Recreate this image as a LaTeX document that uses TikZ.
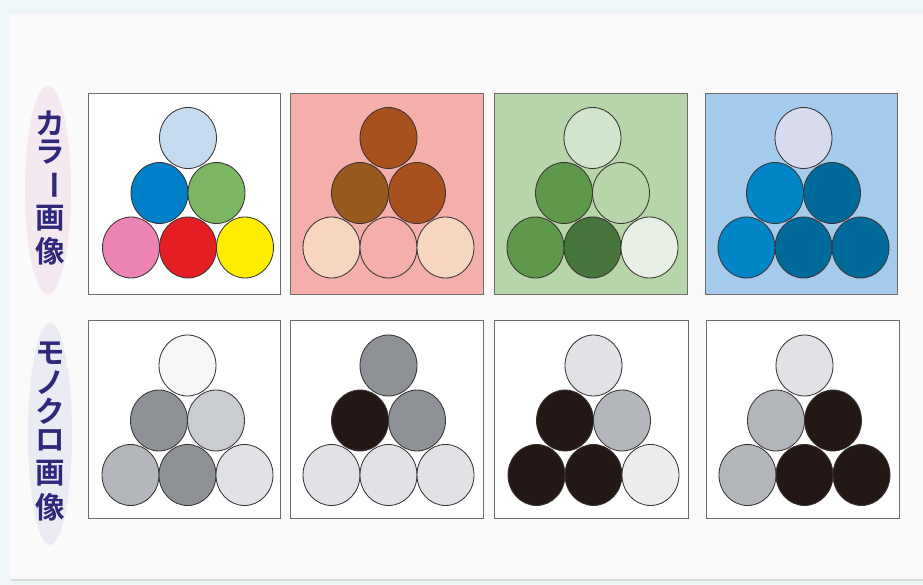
\documentclass[tikz,border=0pt]{standalone}
\usepackage{fontspec}
\newfontfamily\jpfont{Noto Sans CJK JP Bold}
\usetikzlibrary{shapes.geometric}
% colours
\definecolor{outerbg}{HTML}{EEF6F8}
\definecolor{innerbg}{HTML}{FAFAFA}
\definecolor{framegray}{HTML}{6E6B6B}
\definecolor{ringgray}{HTML}{3A3434}
\definecolor{labeltext}{HTML}{30287A}
\definecolor{labelpink}{HTML}{F4E9F1}
\definecolor{labelblue}{HTML}{EBEBF4}
% colour panels
\definecolor{cLB}{HTML}{C5DCF0}
\definecolor{cBlue}{HTML}{0080C8}
\definecolor{cGreen}{HTML}{7BB662}
\definecolor{cPink}{HTML}{EB84B4}
\definecolor{cRed}{HTML}{E31F23}
\definecolor{cYellow}{HTML}{FFED00}
\definecolor{bgPink}{HTML}{F4AFAB}
\definecolor{cBrownA}{HTML}{A9511E}
\definecolor{cBrownB}{HTML}{97591C}
\definecolor{cSkin}{HTML}{F5D7BF}
\definecolor{bgGreen}{HTML}{B6D5A8}
\definecolor{gA}{HTML}{D1E5CC}
\definecolor{gB}{HTML}{5E984A}
\definecolor{gC}{HTML}{B6D5A8}
\definecolor{gD}{HTML}{46763C}
\definecolor{gE}{HTML}{E8F0E6}
\definecolor{bgBlue}{HTML}{A5CBEC}
\definecolor{bA}{HTML}{D8DAEE}
\definecolor{bB}{HTML}{0086C6}
\definecolor{bC}{HTML}{006A9A}
% grays
\definecolor{kA}{HTML}{F5F6F8}
\definecolor{kB}{HTML}{8E9296}
\definecolor{kC}{HTML}{C9CCD0}
\definecolor{kD}{HTML}{B3B6BA}
\definecolor{kE}{HTML}{E1E2E5}
\definecolor{kF}{HTML}{231815}
\definecolor{kG}{HTML}{EDEDEF}
\tikzset{
  panel/.style={draw=framegray, line width=0.9pt, rectangle, inner sep=0pt},
  ball/.style={draw=ringgray, line width=0.85pt, ellipse, inner sep=0pt,
    minimum width=57pt, minimum height=61pt},
  label/.style={font=\jpfont\fontsize{29.5}{29.5}\selectfont, text=labeltext, inner sep=0pt},
  labelbg/.style={ellipse, inner sep=0pt, draw=none}
}
% \pyramid{name}{cx}{cy of top}{top}{midL}{midR}{botL}{botM}{botR}
\newcommand\pyramid[9]{%
  \node[ball, fill=#7] (#1d) at (#2-57, #3+109.5) {};
  \node[ball, fill=#8] (#1e) at (#2, #3+109.5) {};
  \node[ball, fill=#9] (#1f) at (#2+57, #3+109.5) {};
  \node[ball, fill=#5] (#1b) at (#2-28.5, #3+55) {};
  \node[ball, fill=#6] (#1c) at (#2+28.5, #3+55) {};
  \node[ball, fill=#4] (#1a) at (#2, #3) {};
}
\begin{document}
\begin{tikzpicture}[x=1pt,y=-1pt]
\fill[outerbg] (0,0) rectangle (923,585);
\useasboundingbox (0,0) rectangle (923,585);
\fill[black!15] (11,16) rectangle (923,581);
\fill[innerbg] (10,14) rectangle (923,579);

% side labels
\node[labelbg, fill=labelpink, minimum width=46pt, minimum height=208pt] (lab1) at (48,190) {};
\node[labelbg, fill=labelblue, minimum width=44pt, minimum height=222pt] (lab2) at (50,434) {};
\foreach \ch/\yy [count=\i] in {カ/123.5, ラ/152.5, ー/185, 画/218, 像/251}{
  \ifnum\i=3
    \node[label, rotate=-90] (t\i) at (50,\yy) {\ch};
  \else
    \node[label] (t\i) at (50,\yy) {\ch};
  \fi
}
\foreach \ch/\yy [count=\i] in {モ/353, ノ/383, ク/411, ロ/440, 画/473, 像/507}{
  \node[label] (m\i) at (50,\yy) {\ch};
}

% top row panels
\node[panel, fill=white, minimum width=192pt, minimum height=201pt] (P1) at (184,193.5) {};
\node[panel, fill=bgPink, minimum width=193pt, minimum height=201pt] (P2) at (386.5,193.5) {};
\node[panel, fill=bgGreen, minimum width=193pt, minimum height=201pt] (P3) at (590.5,193.5) {};
\node[panel, fill=bgBlue, minimum width=192pt, minimum height=201pt] (P4) at (801,193.5) {};
% bottom row panels
\node[panel, fill=white, minimum width=192pt, minimum height=198pt] (Q1) at (184,419) {};
\node[panel, fill=white, minimum width=193pt, minimum height=198pt] (Q2) at (386.5,419) {};
\node[panel, fill=white, minimum width=194pt, minimum height=198pt] (Q3) at (591,419) {};
\node[panel, fill=white, minimum width=193pt, minimum height=198pt] (Q4) at (802.5,419) {};

% pyramids, colour images
\pyramid{p1}{188}{138}{cLB}{cBlue}{cGreen}{cPink}{cRed}{cYellow}
\pyramid{p2}{388.5}{138}{cBrownA}{cBrownB}{cBrownA}{cSkin}{bgPink}{cSkin}
\pyramid{p3}{592.5}{138}{gA}{gB}{gC}{gB}{gD}{gE}
\pyramid{p4}{803.5}{138}{bA}{bB}{bC}{bB}{bC}{bC}
% pyramids, monochrome images
\pyramid{q1}{187.5}{365.5}{kA}{kB}{kC}{kD}{kB}{kE}
\pyramid{q2}{388.5}{365.5}{kB}{kF}{kB}{kE}{kE}{kE}
\pyramid{q3}{593.5}{365.5}{kE}{kF}{kD}{kF}{kF}{kG}
\pyramid{q4}{804.5}{365.5}{kE}{kD}{kF}{kD}{kF}{kF}
\end{tikzpicture}
\end{document}
